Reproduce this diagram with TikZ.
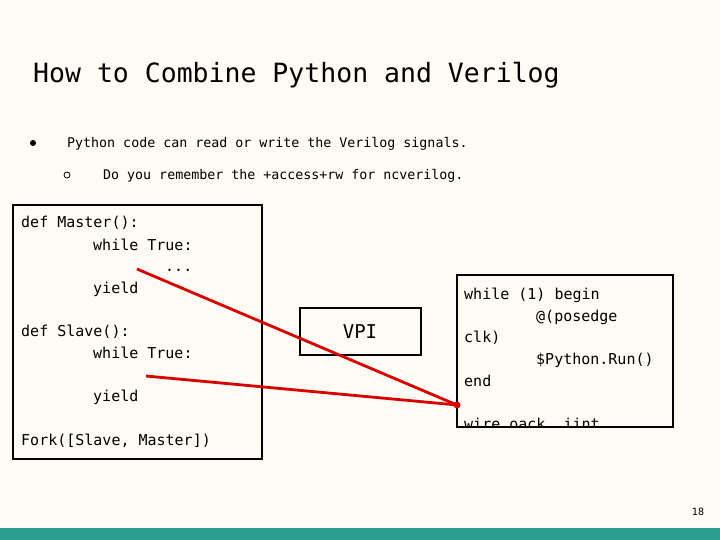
\documentclass[tikz,border=0pt]{standalone}
\usepackage{fontspec}
\setmainfont{DejaVu Sans Mono}
\setmonofont{DejaVu Sans Mono}
\definecolor{paper}{HTML}{FDFBF3}
\definecolor{barteal}{HTML}{2A9D8F}
\tikzset{
  code/.style={anchor=base west,font=\ttfamily\fontsize{15}{15}\selectfont,inner sep=0pt},
  box/.style={draw,line width=2.8pt},
  link/.style={red!85!black,line width=2.8pt},
}
\begin{document}
\begin{tikzpicture}[x=1pt,y=-1pt]
  % Page
  \fill[paper] (0,0) rectangle (720,540);
  \useasboundingbox (0,0) rectangle (720,540);
  \fill[barteal] (0,528) rectangle (720,540);

  % Title and bullets
  \node[anchor=base west,inner sep=0pt,font=\fontsize{26.5}{26.5}\selectfont] (title) at (33,83) {How to Combine Python and Verilog};
  \fill (33,143) circle (3);
  \node[anchor=base west,inner sep=0pt,font=\fontsize{13.3}{13.3}\selectfont] (item1) at (67,148) {Python code can read or write the Verilog signals.};
  \draw[line width=0.8pt] (67,175) circle (3);
  \node[anchor=base west,inner sep=0pt,font=\fontsize{13.3}{13.3}\selectfont] (item2) at (103,180) {Do you remember the +access+rw for ncverilog.};

  % Boxes
  \draw[box] (13,205) rectangle (262,459);
  \draw[box] (300,308) rectangle (421,355);
  \node[font=\ttfamily\fontsize{19}{19}\selectfont] (vpi) at (360,332) {VPI};
  \draw[box] (457,275) rectangle (673,427);

  % Python code
  \node[code] (m1) at (21,228) {def Master():};
  \node[code] (m2) at (93,250) {while True:};
  \node[code] (m3) at (165,271) {...};
  \node[code] (m4) at (93,293) {yield};
  \node[code] (s1) at (21,336) {def Slave():};
  \node[code] (s2) at (93,358) {while True:};
  \node[code] (s4) at (93,401) {yield};
  \node[code] (fork) at (21,445) {Fork([Slave, Master])};

  % Verilog code
  \node[code] (v1) at (464,299) {while (1) begin};
  \node[code] (v2) at (536,321) {@(posedge};
  \node[code] (v3) at (464,342) {clk)};
  \node[code] (v4) at (536,364) {\$Python.Run()};
  \node[code] (v5) at (464,386) {end};
  \begin{scope}
    \clip (457,275) rectangle (673,427);
    \node[code] (v6) at (464,429) {wire oack, iint};
  \end{scope}

  % Links
  \coordinate (mfrom) at (137,269);
  \coordinate (sfrom) at (146,376);
  \coordinate (hook) at (457,405);
  \draw[link] (mfrom) -- (hook);
  \draw[link] (sfrom) -- (hook);
  \fill[red!85!black] (hook) circle (3.5);

  \node[font=\fontsize{10}{10}\selectfont] (page) at (698,512) {18};
\end{tikzpicture}
\end{document}
